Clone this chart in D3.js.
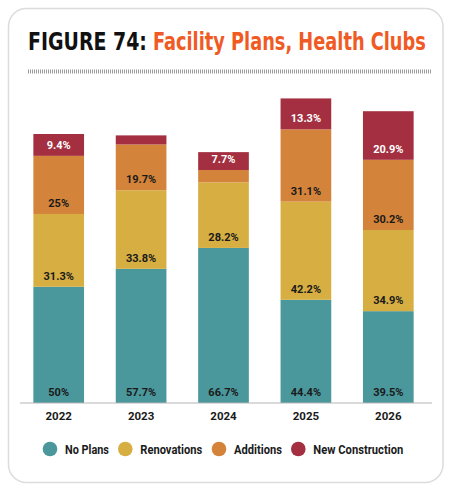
<!DOCTYPE html>
<html><head><meta charset="utf-8">
<script src="https://cdn.jsdelivr.net/npm/d3@7"></script>
<style>body{margin:0;background:#fff}svg{display:block}</style>
</head><body>
<svg id="c" width="450" height="488"></svg>
<script>
const years = ["2022","2023","2024","2025","2026"];
const seriesNames = ["No Plans","Renovations","Additions","New Construction"];
const noPlans = [50, 57.7, 66.7, 44.4, 39.5];
const renovations = [31.3, 33.8, 28.2, 42.2, 34.9];
const additions = [25, 19.7, 5.3, 31.1, 30.2];
const newConstruction = [9.4, 3.9, 7.7, 13.3, 20.9];
const showLabel = [[true,true,true,true,true],[true,true,true,true,true],[true,true,false,true,true],[true,false,true,true,true]];
const colors = ["#4a979c","#d6ae42","#d4843a","#a32f40"];

const svg = d3.select("#c");
svg.append("rect").attr("x",8.5).attr("y",8.5).attr("width",434.5).attr("height",474)
  .attr("rx",18).attr("fill","#fff").attr("stroke","#dcdcdc").attr("stroke-width",1.5);

// fit text horizontally by scaling
function fitText(sel, x0, y0, target){
  const w = sel.node().getComputedTextLength();
  sel.attr("x",0).attr("y",0).attr("transform",`translate(${x0},${y0}) scale(${target/w},1)`);
}

// title
const tf = "'Liberation Sans Narrow','DejaVu Sans Condensed',Roboto,sans-serif";
const t1 = svg.append("text").attr("font-family",tf)
  .attr("font-weight","bold").attr("font-size",24.5).attr("fill","#111").text("FIGURE 74:");
fitText(t1, 28, 49.5, 119);
const t2 = svg.append("text").attr("font-family",tf)
  .attr("font-weight","bold").attr("font-size",24.5).attr("fill","#f05a24").text("Facility Plans, Health Clubs");
fitText(t2, 153, 49.5, 273);

svg.append("line").attr("x1",28).attr("x2",432).attr("y1",71.5).attr("y2",71.5)
  .attr("stroke","#9a9a9a").attr("stroke-width",4).attr("stroke-dasharray","1,1");

const x = d3.scaleBand().domain(years).range([17.5,429.5]).paddingInner(0.385).paddingOuter(0.1925);
const y = d3.scaleLinear().domain([0,100]).range([403,170.5]);

const rows = years.map((yr,i)=>({year:yr, "No Plans":noPlans[i], "Renovations":renovations[i], "Additions":additions[i], "New Construction":newConstruction[i]}));
const stack = d3.stack().keys(seriesNames)(rows);

const g = svg.append("g");
stack.forEach((s,si)=>{
  g.selectAll(null).data(s).enter().append("rect")
    .attr("x",d=>x(d.data.year)).attr("width",x.bandwidth())
    .attr("y",d=>y(d[1])).attr("height",d=>y(d[0])-y(d[1]))
    .attr("fill",colors[si]);
});
stack.forEach((s,si)=>{
  g.selectAll(null).data(s.filter((d,i)=>showLabel[si][i])).enter().append("text")
    .attr("x",d=>x(d.data.year)+x.bandwidth()/2).attr("y",d=>y(d[0])-7)
    .attr("text-anchor","middle").attr("font-family","Roboto,sans-serif").attr("font-weight","bold")
    .attr("font-size",11).attr("fill",si===3?"#fff":"#1a1a1a")
    .text(d=>(+(d[1]-d[0]).toFixed(1))+"%");
});

// axis
const ax = svg.append("g").attr("transform","translate(0,403)")
  .call(d3.axisBottom(x).tickSize(0).tickPadding(9));
ax.select(".domain").attr("d","M20,0H432").attr("stroke","#b5b5b5").attr("stroke-width",1.2);
ax.selectAll("text").attr("font-family","Roboto,sans-serif").attr("font-weight","bold")
  .attr("font-size",11.5).attr("fill","#1a1a1a");

// legend
const legX = [50,125.3,219,298.3];
const legW = [44,62,48,90];
const leg = svg.append("g");
seriesNames.forEach((n,i)=>{
  leg.append("circle").attr("cx",legX[i]).attr("cy",449).attr("r",7.3).attr("fill",colors[i]);
  const t = leg.append("text").attr("font-family","Roboto,sans-serif")
    .attr("font-weight","bold").attr("font-size",12.5).attr("fill","#1a1a1a").text(n);
  fitText(t, legX[i]+15, 453.5, legW[i]);
});
</script>
</body></html>
